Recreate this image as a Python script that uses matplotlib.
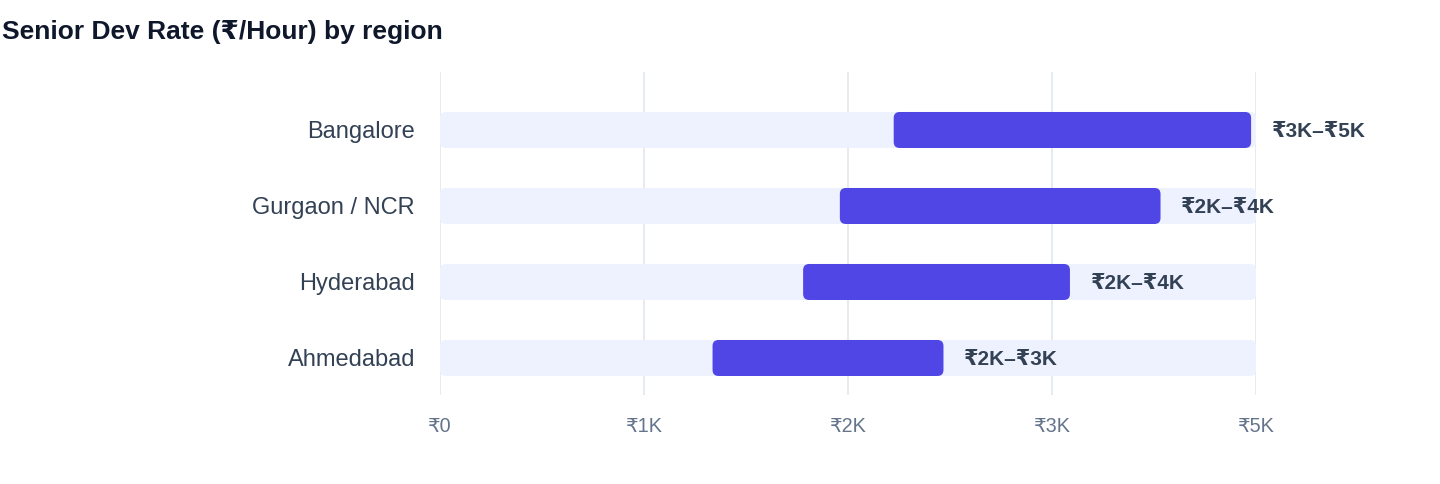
"""Senior dev hourly rate ranges by region, drawn as range bars on a light track."""

import matplotlib
matplotlib.use("Agg")
import matplotlib.pyplot as plt
from matplotlib.patches import FancyBboxPatch

# --- data --------------------------------------------------------------------
REGIONS   = ["Bangalore", "Gurgaon / NCR", "Hyderabad", "Ahmedabad"]
RATE_LOW  = [2780, 2450, 2225, 1670]     # ₹/hour
RATE_HIGH = [4970, 4415, 3860, 3085]
X_MAX     = 5000
TICKS       = [0, 1250, 2500, 3750, 5000]
TICK_LABELS = ["₹0", "₹1K", "₹2K", "₹3K", "₹5K"]

BAR    = "#4F46E5"
TRACK  = "#EEF2FF"
GRID   = "#E2E8F0"
LABEL  = "#334155"
TICKC  = "#64748B"
TITLEC = "#0F172A"

plt.rcParams["font.family"] = ["Liberation Sans", "DejaVu Sans"]

W, H = 1440, 484
fig = plt.figure(figsize=(W / 100, H / 100), dpi=100)
ax = fig.add_axes([440 / W, 1 - 395 / H, (1256 - 440) / W, (395 - 72) / H])

ax.set_xlim(0, X_MAX)
ax.set_ylim(3.487, -0.763)

# pixel size of one data unit, for rounding corners evenly
px_x = (1256 - 440) / X_MAX
px_y = 76.0
radius_px = 6
bar_h = 36 / 76

for i, (lo, hi) in enumerate(zip(RATE_LOW, RATE_HIGH)):
    for x0, x1, col, z in [(0, X_MAX, TRACK, 1), (lo, hi, BAR, 2)]:
        p = FancyBboxPatch((x0, i - bar_h / 2), x1 - x0, bar_h,
                           boxstyle=f"round,pad=0,rounding_size={radius_px / px_x}",
                           mutation_aspect=px_x / px_y,
                           fc=col, ec="none", zorder=z)
        ax.add_patch(p)
    ax.annotate(f"₹{round(lo / 1000)}K–₹{round(hi / 1000)}K", (hi, i),
                xytext=(15, 0), textcoords="offset points",
                ha="left", va="center_baseline", fontsize=15, fontweight="bold",
                color=LABEL, annotation_clip=False, zorder=3)

ax.set_xticks(TICKS)
ax.set_xticklabels(TICK_LABELS)
ax.set_yticks(range(len(REGIONS)))
ax.set_yticklabels(REGIONS)
ax.tick_params(axis="x", length=0, pad=16, labelsize=14.3, labelcolor=TICKC)
ax.tick_params(axis="y", length=0, pad=18, labelsize=17, labelcolor=LABEL)
ax.grid(axis="x", color=GRID, lw=1.2, zorder=0)
ax.set_axisbelow(True)
for s in ax.spines.values():
    s.set_visible(False)

fig.text(2 / W, 1 - 32 / H, "Senior Dev Rate (₹/Hour) by region",
         ha="left", va="center", fontsize=19, fontweight="bold", color=TITLEC)

fig.savefig("out.png", dpi=100)
